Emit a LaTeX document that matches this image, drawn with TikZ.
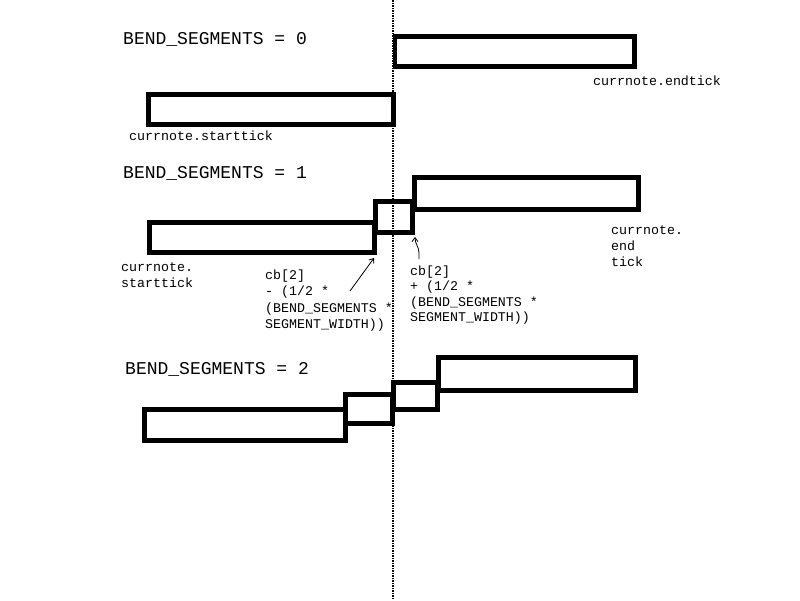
\documentclass[tikz,border=0pt]{standalone}
\usepackage{fontspec}
\newfontfamily\codefont{Liberation Mono}
\usetikzlibrary{arrows.meta}

\tikzset{
  notebox/.style={line width=4.5pt},
  bigtext/.style={anchor=base west,inner sep=0pt,font=\codefont\fontsize{18}{20}\selectfont},
  smalltext/.style={anchor=base west,inner sep=0pt,align=left,font=\codefont\fontsize{13.3}{16}\selectfont},
  pointer/.style={line width=0.8pt,-{Straight Barb[length=4pt,width=6pt]}}
}

\begin{document}
\begin{tikzpicture}[x=1pt,y=-1pt]
\useasboundingbox (0,0) rectangle (800,600);
% centre line
\draw[line width=1.6pt,dash pattern=on 1.5pt off 1pt] (393,0) -- (393,600);

\foreach \n/\x/\y in {0/123/44,1/123/178,2/125/374}
  \node[bigtext] (title\n) at (\x,\y) {BEND\_SEGMENTS = \n};

% BEND_SEGMENTS = 0
\draw[notebox] (148.5,94.5) rectangle (393.5,124.5);
\draw[notebox] (395,36.5) rectangle (634.5,66.5);
\node[smalltext] (start0) at (129,140) {currnote.starttick};
\node[smalltext] (end0) at (593,85) {currnote.endtick};

% BEND_SEGMENTS = 1 (base = last line)
\draw[notebox] (149.5,222.5) rectangle (374.5,252.5);
\draw[notebox] (375.5,201.5) rectangle (412.5,232.5);
\draw[notebox] (414.5,177.5) rectangle (638.5,209.5);
\node[smalltext] (start1) at (121,287) {currnote.\\starttick};
\node[smalltext] (end1) at (611,266) {currnote.\\end\\tick};
\node[smalltext,font=\codefont\fontsize{13.3}{16.5}\selectfont] (minus) at (265,328.5)
  {cb[2]\\- (1/2 *\\(BEND\_SEGMENTS *\\SEGMENT\_WIDTH))};
\node[smalltext,font=\codefont\fontsize{13.3}{15.5}\selectfont] (plus) at (410,321.5)
  {cb[2]\\+ (1/2 *\\(BEND\_SEGMENTS *\\SEGMENT\_WIDTH))};
\coordinate (tipminus) at (374,258);
\coordinate (tailminus) at (350,291);
\coordinate (tipplus) at (415,237);
\coordinate (tailplus) at (419,259);
\draw[pointer] (tailminus) -- (tipminus);
\draw[pointer] (tailplus) -- (419,254) .. controls (419,246) and (415,244) .. (tipplus);

% BEND_SEGMENTS = 2
\draw[notebox] (144.5,409.5) rectangle (345.5,440.5);
\draw[notebox] (345.5,394.5) rectangle (392.5,423.5);
\draw[notebox] (393.5,382.5) rectangle (437.5,409.5);
\draw[notebox] (438.5,357.5) rectangle (635.5,390.5);
\end{tikzpicture}
\end{document}
